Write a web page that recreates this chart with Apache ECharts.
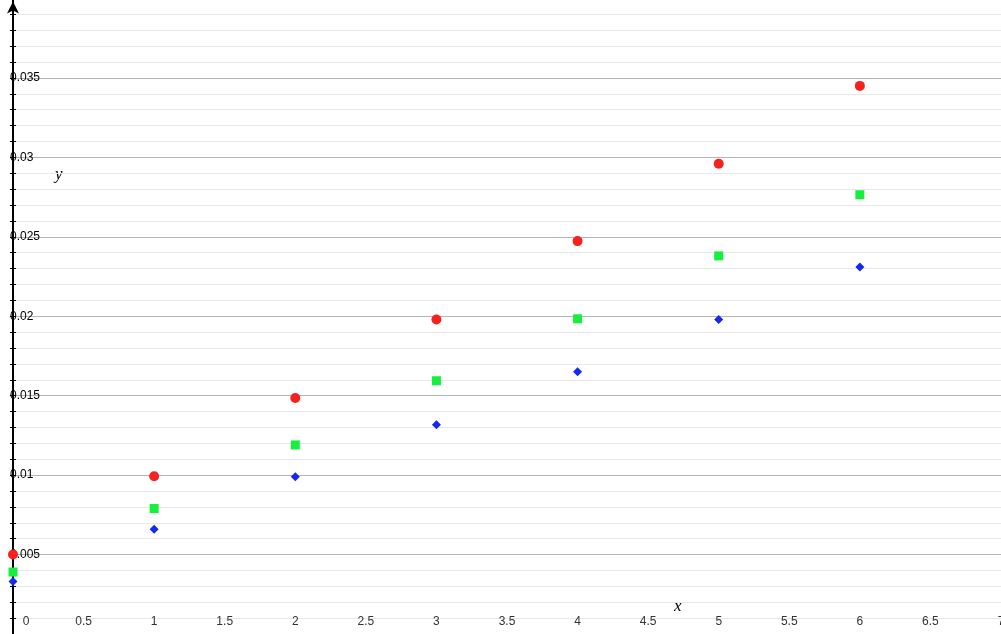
<!DOCTYPE html>
<html>
<head>
<meta charset="utf-8">
<script src="https://cdn.jsdelivr.net/npm/echarts@6/dist/echarts.min.js"></script>
<style>html,body{margin:0;padding:0;background:#fff}#c{width:1001px;height:634px}</style>
</head>
<body>
<div id="c"></div>
<script>
var xValues = [0, 1, 2, 3, 4, 5, 6];
var redValues = [0.005, 0.00993, 0.01486, 0.0198, 0.02473, 0.0296, 0.0345];
var greenValues = [0.0039, 0.0079, 0.0119, 0.01594, 0.01984, 0.0238, 0.02765];
var blueValues = [0.0033, 0.0066, 0.0099, 0.01317, 0.01651, 0.0198, 0.0231];
var xTicks = [0, 0.5, 1, 1.5, 2, 2.5, 3, 3.5, 4, 4.5, 5, 5.5, 6, 6.5, 7];
var yTicks = [0.005, 0.01, 0.015, 0.02, 0.025, 0.03, 0.035];

function pairs(vals) { return xValues.map(function (x, i) { return [x, vals[i]]; }); }

var chart = echarts.init(document.getElementById('c'), null, {renderer: 'canvas'});
var yBase = {
  type: 'value', min: 0, max: 0.04, interval: 0.005, position: 'left', offset: 0
};
chart.setOption({
  animation: false,
  backgroundColor: '#fff',
  grid: {left: 13, right: 0, top: -1.5, bottom: 0, containLabel: false, outerBoundsMode: 'none'},
  xAxis: {
    type: 'value', min: 0, max: 7, interval: 0.5,
    axisLine: {show: false},
    axisTick: {show: false},
    splitLine: {show: false},
    axisLabel: {
      inside: true, margin: 6, fontSize: 12, color: '#333',
      fontFamily: 'Liberation Sans, Arial, sans-serif',
      showMinLabel: true, showMaxLabel: true, hideOverlap: false,
      formatter: function (v) {
        if (v === 0) return '{z|0}';
        return String(v);
      },
      rich: {z: {padding: [0, 0, 0, 26], fontSize: 12, color: '#333', fontFamily: 'Liberation Sans, Arial, sans-serif'}}
    }
  },
  yAxis: [
    Object.assign({}, yBase, {
      axisLine: {show: true, lineStyle: {color: '#000', width: 2}, symbol: ['none', 'arrow'], symbolSize: [9, 12], symbolOffset: [0, -3]},
      axisTick: {show: true, length: 3, lineStyle: {color: '#000', width: 1}},
      minorTick: {show: true, splitNumber: 5, length: 3, lineStyle: {color: '#000', width: 1}},
      splitLine: {show: true, lineStyle: {color: '#b4b4b4', width: 1}},
      minorSplitLine: {show: true, lineStyle: {color: '#e8e8e8', width: 1}},
      axisLabel: {
        inside: true, margin: -3, fontSize: 12, color: '#000',
        fontFamily: 'Liberation Sans, Arial, sans-serif',
        showMinLabel: false, showMaxLabel: false,
        formatter: function (v) { return yTicks.indexOf(Math.round(v * 1000) / 1000) >= 0 ? String(Math.round(v * 1000) / 1000) : ''; }
      }
    }),
    Object.assign({}, yBase, {
      axisLine: {show: false},
      axisTick: {show: true, inside: true, length: 3, lineStyle: {color: '#000', width: 1}},
      minorTick: {show: true, splitNumber: 5, length: 3, lineStyle: {color: '#000', width: 1}},
      splitLine: {show: false},
      axisLabel: {show: false}
    })
  ],
  graphic: [
    {type: 'text', left: 55, top: 166, style: {text: 'y', font: 'italic 17px "Liberation Serif", "Times New Roman", serif', fill: '#000'}},
    {type: 'text', left: 674, top: 598, style: {text: 'x', font: 'italic 17px "Liberation Serif", "Times New Roman", serif', fill: '#000'}}
  ],
  series: [
    {type: 'scatter', name: 'red', data: pairs(redValues), symbol: 'circle', symbolSize: 10, itemStyle: {color: '#f5221e', opacity: 1}, z: 5},
    {type: 'scatter', name: 'green', data: pairs(greenValues), symbol: 'rect', symbolSize: 9, itemStyle: {color: '#14f03c', opacity: 1}, z: 4},
    {type: 'scatter', name: 'blue', data: pairs(blueValues), symbol: 'diamond', symbolSize: 9, itemStyle: {color: '#1428f0', opacity: 1}, z: 3}
  ]
});
</script>
</body>
</html>
